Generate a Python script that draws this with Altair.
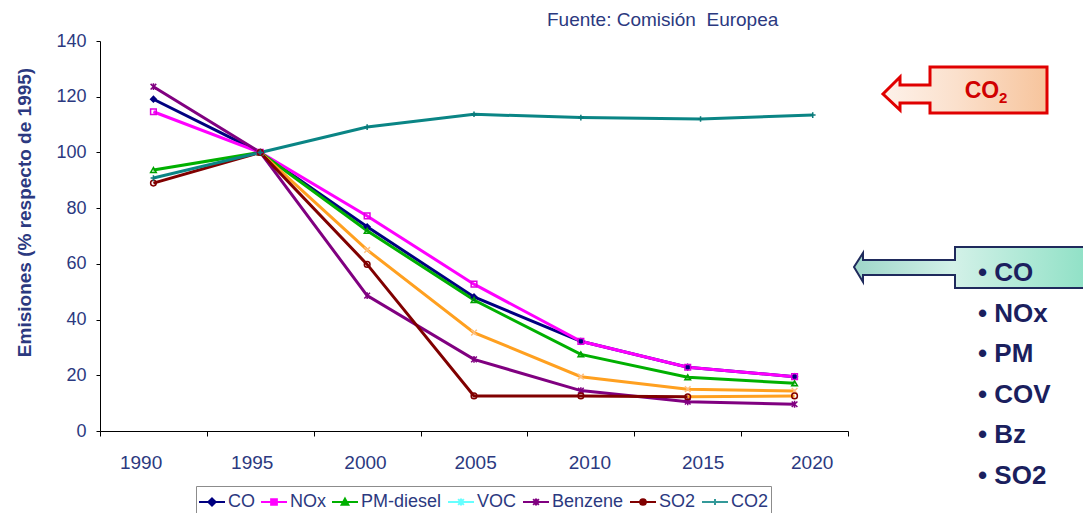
import altair as alt
import pandas as pd

# Emissions relative to 1995 (=100), EU road transport
years = [1990, 1995, 2000, 2005, 2010, 2015, 2020]
co2_x = [1990, 1995, 2000, 2005, 2010, 2015.6, 2020.85]   # CO2 samples as plotted
x_label_pos = [1989.4, 1994.6, 1999.9, 2005.05, 2010.4, 2015.7, 2020.8]
x_tick_pos = [1987.5, 1992.5, 1997.5, 2002.5, 2007.5, 2012.5, 2017.5, 2022.5]
y_ticks = [0, 20, 40, 60, 80, 100, 120, 140]

co = [119.1, 100, 73.3, 48.1, 32.2, 22.9, 19.5]
nox = [114.6, 100, 77.2, 52.7, 32.2, 22.9, 19.5]
pm_diesel = [93.7, 100, 71.9, 47.0, 27.5, 19.3, 17.1]
voc = [None, 100, 65.0, 35.3, 19.5, 15.0, 14.4]
benzene = [123.6, 100, 48.6, 25.7, 14.5, 10.5, 9.6]
so2 = [89.0, 100, 59.8, 12.6, 12.6, 12.3, 12.6]
co2 = [90.8, 100, 109.1, 113.7, 112.5, 112.0, 113.4]

series_names = ["CO", "NOx", "PM-diesel", "VOC", "Benzene", "SO2", "CO2"]
series_values = [co, nox, pm_diesel, voc, benzene, so2, co2]

pollutants = ["CO", "NOx", "PM", "COV", "Bz", "SO2"]

NAVY = "#2b3980"
TEXT_DARK = "#1b1f5e"

line_colors = ["#000080", "#ff00ff", "#00b000", "#ffa020", "#800080", "#800000", "#0a8585", "#ffa020"]
marker_colors = ["#000080", "#e000e0", "#00a000", "#ffc080", "#800080", "#800000", "#0a7a7a"]
marker_fills = ["#000080", "transparent", "transparent", "transparent", "transparent", "transparent", "transparent"]
legend_colors = ["#000080", "#ff00ff", "#00b000", "#66ffff", "#800080", "#800000", "#339999"]

X_PATH = "M-1,-1L1,1M-1,1L1,-1"
ASTER_PATH = "M-1,-1L1,1M-1,1L1,-1M0,-1.2V1.2"
PLUS_PATH = "M0,-1V1M-1,0H1"
marker_shapes = ["diamond", "square", "triangle-up", X_PATH, ASTER_PATH, "circle", PLUS_PATH]

# legend symbols: a short line with the marker in the middle
legend_shapes = [
    "M-1,0H1M0,-0.28L0.28,0L0,0.28L-0.28,0Z",
    "M-1,0H1M-0.22,-0.22H0.22V0.22H-0.22Z",
    "M-1,0H1M0,-0.26L0.26,0.22H-0.26Z",
    "M-1,0H1M-0.22,-0.22L0.22,0.22M-0.22,0.22L0.22,-0.22M0,-0.27V0.27",
    "M-1,0H1M-0.22,-0.22L0.22,0.22M-0.22,0.22L0.22,-0.22M0,-0.27V0.27",
    "M-1,0H1M-0.22,0A0.22,0.22,0,1,0,0.22,0A0.22,0.22,0,1,0,-0.22,0Z",
    "M-1,0H1M0,-0.24V0.24",
]

rows = []
for name, vals in zip(series_names, series_values):
    xs = co2_x if name == "CO2" else years
    for x, v in zip(xs, vals):
        if v is not None:
            rows.append({"series": name, "year": x, "value": v})
df = pd.DataFrame(rows)

# line tracks: the last SO2 segment is drawn in orange
main = df[~((df.series == "SO2") & (df.year > 2015))].copy()
main["track"] = main["series"]
tail = df[(df.series == "SO2") & (df.year >= 2015)].copy()
tail["track"] = "SO2 tail"
lines_df = pd.concat([main, tail], ignore_index=True)
track_names = series_names + ["SO2 tail"]

x_scale = alt.Scale(domain=[1987.5, 2022.5], nice=False, zero=False)
y_scale = alt.Scale(domain=[0, 140], nice=False)

y_axis = alt.Axis(
    values=y_ticks, grid=False, domainColor="black", tickColor="black", tickSize=4,
    labelFontSize=18, labelColor=NAVY, labelPadding=10,
    title="Emisiones (% respecto de 1995)", titleFontSize=19, titleFontWeight="bold",
    titleColor=NAVY, titleX=-76, titleY=171, titleAngle=-90,
    titleAlign="center", titleBaseline="middle",
)

lines = alt.Chart(lines_df).mark_line(strokeWidth=3).encode(
    x=alt.X("year:Q", scale=x_scale, axis=alt.Axis(
        values=x_tick_pos, labels=False, grid=False, domainColor="black",
        tickColor="black", tickSize=5, title=None, orient="bottom")),
    y=alt.Y("value:Q", scale=y_scale, axis=y_axis),
    color=alt.Color("track:N", scale=alt.Scale(domain=track_names, range=line_colors), legend=None),
    detail="track:N",
)

points = alt.Chart(df).mark_point(size=32, strokeWidth=1.5, opacity=1).encode(
    x=alt.X("year:Q", scale=x_scale, axis=alt.Axis(
        values=x_label_pos, labelExpr="format(round(datum.value / 5) * 5, 'd')",
        domain=False, ticks=False, grid=False, labelFontSize=19, labelColor=NAVY,
        labelPadding=22, title=None, orient="bottom")),
    y=alt.Y("value:Q", scale=y_scale, axis=y_axis),
    shape=alt.Shape("series:N", scale=alt.Scale(domain=series_names, range=marker_shapes), legend=None),
    stroke=alt.Stroke("series:N", scale=alt.Scale(domain=series_names, range=marker_colors), legend=None),
    fill=alt.Fill("series:N", scale=alt.Scale(domain=series_names, range=marker_fills), legend=None),
)

legend_props = dict(
    orient="none", legendX=96, legendY=445, direction="horizontal", title=None,
    labelFontSize=18, labelColor=NAVY, labelFont="Liberation Sans", labelOffset=2,
    symbolSize=676, symbolStrokeWidth=2, columnPadding=2, padding=2,
    strokeColor="#8c8c8c", fillColor="white", labelLimit=0,
)
legend_layer = alt.Chart(pd.DataFrame({"series": series_names})).transform_filter(
    "false"
).mark_point(filled=True, opacity=1, strokeWidth=2).encode(
    fill=alt.Fill("series:N", scale=alt.Scale(domain=series_names, range=legend_colors),
                  legend=alt.Legend(**legend_props)),
    stroke=alt.Stroke("series:N", scale=alt.Scale(domain=series_names, range=legend_colors),
                      legend=alt.Legend(**legend_props)),
    shape=alt.Shape("series:N", scale=alt.Scale(domain=series_names, range=legend_shapes),
                    legend=alt.Legend(**legend_props)),
)

one = pd.DataFrame({"k": [0]})

source = alt.Chart(pd.DataFrame({"t": ["Fuente: Comisión\u00a0 Europea"]})).mark_text(
    align="left", baseline="middle", fontSize=19, color=NAVY
).encode(x=alt.value(447), y=alt.value(-21), text="t:N")

# red call-out pointing at the CO2 curve
co2_callout = alt.Chart(one).mark_point(
    shape="M-58,-23H59V23H-58V13H-88V20L-105,4L-88,-13V-5H-58Z",
    size=4, filled=True, opacity=1, stroke="#e00000", strokeWidth=3,
    fill=alt.LinearGradient(gradient="linear", x1=0, x2=1, y1=0, y2=0, stops=[
        alt.GradientStop(color="#fdf2ea", offset=0),
        alt.GradientStop(color="#fbe0cc", offset=0.45),
        alt.GradientStop(color="#f7c49c", offset=1)]),
).encode(x=alt.value(888), y=alt.value(49))

co2_text = alt.Chart(one).mark_text(
    align="center", baseline="middle", fontSize=23, fontWeight="bold", color="#d00000"
).encode(x=alt.value(882), y=alt.value(50), text=alt.value("CO"))
co2_sub = alt.Chart(one).mark_text(
    align="left", baseline="middle", fontSize=15, fontWeight="bold", color="#d00000"
).encode(x=alt.value(899), y=alt.value(57), text=alt.value("2"))

# mint call-out pointing at the falling pollutants
poll_callout = alt.Chart(one).mark_point(
    shape="M-65,-20H90V21H-65V8H-157V15L-166,0L-157,-14V-7H-65Z",
    size=4, filled=True, opacity=1, stroke="#1f2a5c", strokeWidth=2,
    fill=alt.LinearGradient(gradient="linear", x1=0, x2=1, y1=0, y2=0, stops=[
        alt.GradientStop(color="#9ed6c9", offset=0),
        alt.GradientStop(color="#d3f1e8", offset=0.39),
        alt.GradientStop(color="#84dec0", offset=1)]),
).encode(x=alt.value(920), y=alt.value(226))

bullets = alt.Chart(pd.DataFrame({"p": pollutants})).transform_window(
    row="row_number()"
).transform_calculate(
    label="'• ' + datum.p", ypx="232 + (datum.row - 1) * 40.6"
).mark_text(
    align="left", baseline="middle", fontSize=26, fontWeight="bold", color=TEXT_DARK
).encode(x=alt.value(878), y=alt.Y("ypx:Q", scale=None), text="label:N")

chart = alt.layer(
    lines, points, legend_layer, source, co2_callout, co2_text, co2_sub, poll_callout, bullets
).resolve_scale(
    color="independent", stroke="independent", fill="independent", shape="independent"
).resolve_axis(
    x="independent"
).properties(
    width=748, height=390,
    padding={"left": 100, "top": 41, "right": 235, "bottom": 82},
    autosize=alt.AutoSizeParams(type="none"),
    background="white",
).configure(
    font="Liberation Sans",
).configure_view(
    fill="#eaedf1", stroke=None,
)

chart.save("out.html", embed_options={"renderer": "svg", "actions": False})
